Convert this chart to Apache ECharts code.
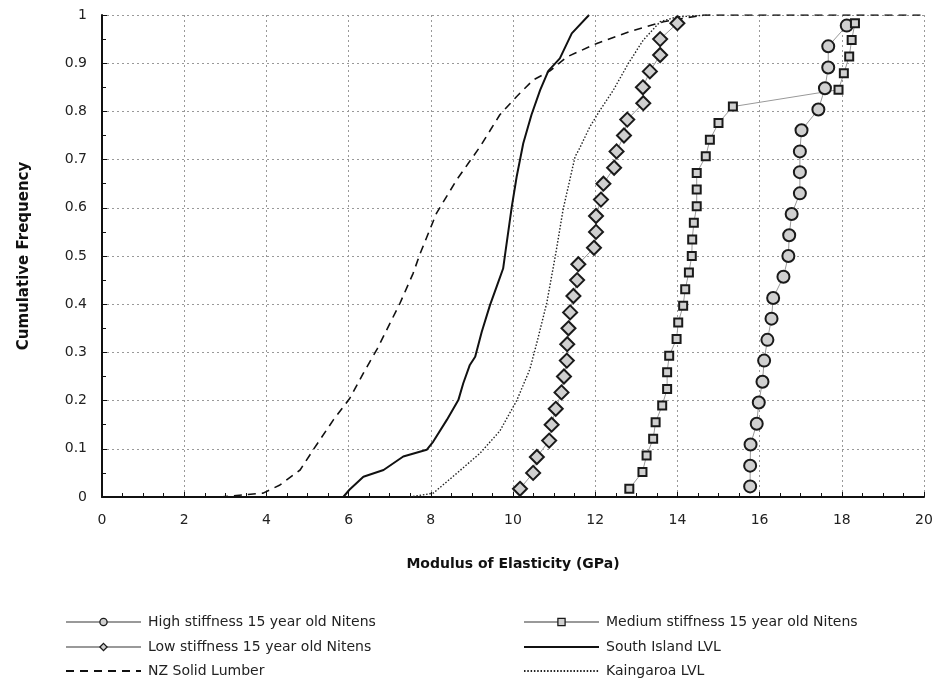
<!DOCTYPE html>
<html>
<head>
<meta charset="utf-8">
<script src="https://cdn.jsdelivr.net/npm/echarts@6/dist/echarts.min.js"></script>
<style>
  html, body { margin: 0; padding: 0; background: #fff; }
  #chart { width: 943px; height: 686px; }
</style>
</head>
<body>
<div id="chart"></div>
<script>
// 高刚度 (circles)
var highX = [15.77, 15.77, 15.78, 15.93, 15.98, 16.07, 16.11, 16.19, 16.29, 16.33, 16.58, 16.70,
             16.72, 16.78, 16.98, 16.98, 16.98, 17.02, 17.43, 17.59, 17.67, 17.67, 18.12];
var highY = [0.022, 0.065, 0.109, 0.152, 0.196, 0.239, 0.283, 0.326, 0.370, 0.413, 0.457, 0.500,
             0.543, 0.587, 0.630, 0.674, 0.717, 0.761, 0.804, 0.848, 0.891, 0.935, 0.978];
// 中刚度 (squares)
var medX = [12.83, 13.15, 13.25, 13.41, 13.47, 13.63, 13.75, 13.75, 13.80, 13.98, 14.02, 14.14, 14.19, 14.28, 14.35,
            14.36, 14.40, 14.47, 14.47, 14.47, 14.69, 14.79, 15.00, 15.35, 17.92, 18.05, 18.18, 18.24, 18.32];
var medY = [0.017, 0.052, 0.086, 0.121, 0.155, 0.190, 0.224, 0.259, 0.293, 0.328, 0.362, 0.397, 0.431, 0.466, 0.500,
            0.534, 0.569, 0.603, 0.638, 0.672, 0.707, 0.741, 0.776, 0.810, 0.845, 0.879, 0.914, 0.948, 0.983];
// 低刚度 (diamonds)
var lowX = [10.17, 10.49, 10.58, 10.88, 10.94, 11.04, 11.18, 11.24, 11.31, 11.32, 11.35, 11.39, 11.47, 11.56, 11.59,
            11.97, 12.02, 12.02, 12.14, 12.20, 12.46, 12.52, 12.70, 12.78, 13.17, 13.16, 13.33, 13.58, 13.58, 14.00];
var lowY = [0.017, 0.050, 0.083, 0.117, 0.150, 0.183, 0.217, 0.250, 0.283, 0.317, 0.350, 0.383, 0.417, 0.450, 0.483,
            0.517, 0.550, 0.583, 0.617, 0.650, 0.683, 0.717, 0.750, 0.783, 0.817, 0.850, 0.883, 0.917, 0.950, 0.983];
// South Island LVL
var southX = [5.87, 6.02, 6.36, 6.85, 7.33, 7.90, 8.06, 8.39, 8.67, 8.79, 8.95, 9.08, 9.24, 9.44, 9.60, 9.76, 9.81,
              9.97, 10.09, 10.25, 10.45, 10.66, 10.86, 11.14, 11.43, 11.85];
var southY = [0.0, 0.015, 0.042, 0.056, 0.084, 0.098, 0.115, 0.160, 0.201, 0.236, 0.274, 0.291, 0.343, 0.398, 0.436, 0.474, 0.505,
              0.602, 0.665, 0.734, 0.793, 0.844, 0.884, 0.910, 0.962, 1.0];
// Kaingaroa LVL
var kaiX = [7.49, 8.06, 8.63, 9.20, 9.68, 10.09, 10.41, 10.58, 10.82, 11.04, 11.22, 11.51, 11.63, 11.87, 12.12, 12.44, 12.81,
            13.17, 13.58, 13.98, 14.79];
var kaiY = [0.0, 0.008, 0.049, 0.091, 0.137, 0.200, 0.265, 0.320, 0.402, 0.505, 0.597, 0.706, 0.725, 0.768, 0.803, 0.844, 0.900,
            0.948, 0.986, 0.996, 1.0];
// NZ Solid Lumber
var nzX = [2.87, 3.92, 4.33, 4.82, 5.14, 5.63, 6.03, 6.36, 6.70, 7.25, 7.57, 7.74, 8.14, 8.63, 9.20, 9.68, 10.09, 10.49,
           10.90, 11.31, 12.04, 12.85, 13.66, 14.63, 20.0];
var nzY = [0.0, 0.008, 0.025, 0.056, 0.098, 0.160, 0.205, 0.257, 0.308, 0.402, 0.464, 0.505, 0.589, 0.658, 0.727, 0.793,
           0.831, 0.865, 0.884, 0.913, 0.941, 0.966, 0.986, 1.0, 1.0];

var seriesNames = ['High stiffness 15 year old Nitens', 'Medium stiffness 15 year old Nitens',
                   'Low stiffness 15 year old Nitens', 'South Island LVL', 'NZ Solid Lumber', 'Kaingaroa LVL'];

function pairs(xs, ys) {
    var out = [];
    for (var i = 0; i < xs.length; i++) out.push([xs[i], ys[i]]);
    return out;
}

var font = 'DejaVu Sans, sans-serif';
var markerStyle = { color: '#d0d0d0', borderColor: '#1a1a1a', borderWidth: 2 };

// 图例：每项单独放置
function legendItem(name, left, top, hideSymbol) {
    var item = { name: name };
    item.itemStyle = hideSymbol ? { opacity: 0 } : { borderWidth: 1.3 };
    return {
        orient: 'horizontal', left: left, top: top, padding: 0,
        itemWidth: 75, itemHeight: 9, itemGap: 0,
        textStyle: { fontSize: 14, color: '#222', fontFamily: font, padding: [0, 0, 0, 2] },
        data: [item]
    };
}

var option = {
    animation: false,
    textStyle: { fontFamily: font },
    grid: { left: 102, top: 15, right: 19, bottom: 189 },
    legend: [
        legendItem(seriesNames[0], 65, 615, false),
        legendItem(seriesNames[2], 65, 640, false),
        legendItem(seriesNames[4], 65, 664, true),
        legendItem(seriesNames[1], 523, 615, false),
        legendItem(seriesNames[3], 523, 640, true),
        legendItem(seriesNames[5], 523, 664, true)
    ],
    xAxis: {
        type: 'value', min: 0, max: 20, interval: 2,
        name: 'Modulus of Elasticity (GPa)', nameLocation: 'middle', nameGap: 60,
        nameTextStyle: { fontSize: 14, fontWeight: 'bold', color: '#111' },
        axisLine: { lineStyle: { color: '#111', width: 2 } },
        axisTick: { inside: true, length: 5, lineStyle: { color: '#111' } },
        minorTick: { show: true, splitNumber: 4, length: 4, lineStyle: { color: '#111' } },
        axisLabel: { fontSize: 14, color: '#222', margin: 16 },
        splitLine: { show: true, lineStyle: { color: '#999', type: [2, 3], width: 1 } }
    },
    yAxis: {
        type: 'value', min: 0, max: 1, interval: 0.1,
        name: 'Cumulative Frequency', nameLocation: 'middle', nameGap: 70, nameRotate: 90,
        nameTextStyle: { fontSize: 15, fontWeight: 'bold', color: '#111' },
        axisLine: { show: true, lineStyle: { color: '#111', width: 2 } },
        axisTick: { show: true, inside: true, length: 5, lineStyle: { color: '#111' } },
        minorTick: { show: true, splitNumber: 2, length: 4, lineStyle: { color: '#111' } },
        axisLabel: { fontSize: 14, color: '#222', margin: 15 },
        splitLine: { show: true, lineStyle: { color: '#999', type: [2, 3], width: 1 } }
    },
    series: [
        {
            name: seriesNames[0], type: 'line', data: pairs(highX, highY),
            symbol: 'circle', symbolSize: 12, itemStyle: markerStyle,
            lineStyle: { color: '#999', width: 1 }, z: 5
        },
        {
            name: seriesNames[1], type: 'line', data: pairs(medX, medY),
            symbol: 'rect', symbolSize: 8, itemStyle: markerStyle,
            lineStyle: { color: '#999', width: 1 }, z: 5
        },
        {
            name: seriesNames[2], type: 'line', data: pairs(lowX, lowY),
            symbol: 'diamond', symbolSize: 14, itemStyle: markerStyle,
            lineStyle: { color: '#999', width: 1 }, z: 5
        },
        {
            name: seriesNames[3], type: 'line', data: pairs(southX, southY),
            symbol: 'none', itemStyle: { color: '#111' },
            lineStyle: { color: '#111', width: 2 }
        },
        {
            name: seriesNames[4], type: 'line', data: pairs(nzX, nzY),
            symbol: 'none', itemStyle: { color: '#111' },
            lineStyle: { color: '#111', width: 1.6, type: [8, 6] }
        },
        {
            name: seriesNames[5], type: 'line', data: pairs(kaiX, kaiY),
            symbol: 'none', itemStyle: { color: '#222' },
            lineStyle: { color: '#222', width: 1.4, type: [1.5, 1.8] }
        }
    ]
};

var myChart = echarts.init(document.getElementById('chart'));
myChart.setOption(option);
</script>
</body>
</html>
